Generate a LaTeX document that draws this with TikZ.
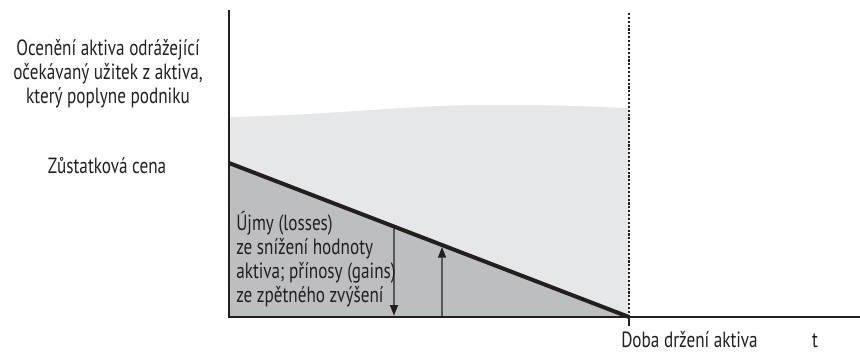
\documentclass[tikz,border=0pt]{standalone}
\usepackage{fontspec}
\setmainfont{PT Sans}[FakeStretch=0.78]
\usetikzlibrary{arrows.meta,calc}
\definecolor{lightarea}{HTML}{E6E7E8}
\definecolor{darkarea}{HTML}{BCBEC0}
\definecolor{inkline}{HTML}{231F20}

\begin{document}
\begin{tikzpicture}[x=0.75pt,y=0.75pt,yscale=-1,
  axisline/.style={draw=inkline, line width=2.2pt},
  bookline/.style={draw=inkline, line width=3pt},
  dotline/.style={draw=inkline, line width=1.6pt, dash pattern=on 1.6pt off 1.3pt},
  gainarrow/.style={draw=inkline, line width=1.1pt, -{Triangle[length=8pt,width=6pt]}},
  lbl/.style={inner sep=0pt, text=inkline, font=\fontsize{16.5}{18}\selectfont}]

\useasboundingbox (0,0) rectangle (860,353);

%Coordinates [axes]
\coordinate (O) at (229,317);
\coordinate (ytop) at (229,10);
\coordinate (xend) at (860,317);
\coordinate (start) at (229,163);
\coordinate (hold) at (629,317);
\coordinate (holdtop) at (629,13);
\coordinate (holdtick) at (629,326);
\coordinate (lossfrom) at ($(start)!0.4125!(hold)$);
\coordinate (lossto) at (394,317);
\coordinate (gainfrom) at (442,317);
\coordinate (gainto) at ($(start)!0.5325!(hold)$);

%Shape: Light area [expected use]
\fill [lightarea] (229,117) .. controls (330,115) and (400,106) .. (475,105) .. controls (540,104) and (600,107) .. (629,108) -- (hold) -- (O) -- cycle ;
%Shape: Dark area [book value]
\fill [darkarea] (start) -- (hold) -- (O) -- cycle ;

%Straight Lines [holding period]
\draw [dotline] (holdtop) -- (hold) ;
\draw [draw=inkline, line width=1.6pt] (hold) -- (holdtick) ;
%Straight Lines [book value]
\draw [bookline] (start) -- (hold) ;
%Straight Lines [axes]
\draw [axisline] (ytop) -- (O) -- (xend) ;

% Text Node
\node (valuelbl) [lbl, align=center, anchor=north] at (108,39) {Ocenění aktiva odrážející\\očekávaný užitek z aktiva,\\který poplyne podniku};
% Text Node
\node (residuallbl) [lbl, anchor=base] at (107,173) {Zůstatková cena};
% Text Node
\node (changelbl) [lbl, align=left, anchor=north west] at (236,211) {Újmy (losses)\\ze snížení hodnoty\\aktiva; přínosy (gains)\\ze zpětného zvýšení};
% Text Node
\node (holdlbl) [lbl, anchor=base west] at (621,347) {Doba držení aktiva};
% Text Node
\node (tlbl) [lbl, anchor=base] at (815,347) {t};

%Straight Lines [arrows]
\draw [gainarrow, shorten >=1pt] (lossfrom) -- (lossto) ;
\draw [gainarrow, shorten >=1.5pt] (gainfrom) -- (gainto) ;
\end{tikzpicture}
\end{document}
